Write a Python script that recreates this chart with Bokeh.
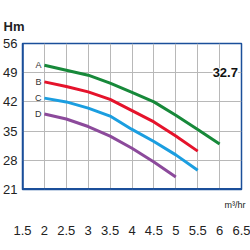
from bokeh.plotting import figure
from bokeh.models import FixedTicker, Span, Label, CustomJSTickFormatter, Title, LinearAxis
from bokeh.embed import file_html
from bokeh.resources import INLINE

# ---- data ----
flow_a = [2, 2.5, 3, 3.5, 4, 4.5, 5, 5.5, 6]
head_a = [50.8, 49.6, 48.4, 46.5, 44.3, 42.0, 38.8, 35.4, 31.9]
flow_b = [2, 2.5, 3, 3.5, 4, 4.5, 5, 5.5]
head_b = [46.8, 45.7, 44.4, 42.6, 39.9, 37.2, 33.8, 30.2]
flow_c = [2, 2.5, 3, 3.5, 4, 4.5, 5, 5.5]
head_c = [42.9, 42.0, 40.5, 38.6, 35.4, 32.5, 29.3, 25.6]
flow_d = [2, 2.5, 3, 3.5, 4, 4.5, 5]
head_d = [39.1, 37.9, 36.1, 33.8, 30.9, 27.6, 24.0]
curve_names = ["A", "B", "C", "D"]
x_ticks = [1.5, 2, 2.5, 3, 3.5, 4, 4.5, 5, 5.5, 6, 6.5]
y_ticks = [21, 28, 35, 42, 49, 56]
model_label = "32.7"

FONT = "Liberation Sans"
BLUE = "#1b4f9a"

p = figure(width=250, height=250, x_range=(1.5, 6.5), y_range=(21, 56),
           output_backend="svg", toolbar_location=None, x_axis_location=None,
           min_border_left=22, min_border_right=9, min_border_top=43, min_border_bottom=61)
p.background_fill_color = "white"
p.border_fill_color = "white"
p.outline_line_color = BLUE
p.outline_line_width = 1.5

# Title "Hm" above the y axis
p.title.text = "Hm"
p.title.align = "left"
p.title.offset = -19
p.title.standoff = 20
p.title.text_font = FONT
p.title.text_font_size = "13px"
p.title.text_font_style = "bold"
p.title.text_color = "#222222"

# unit label below the frame, right aligned
unit = Title(text="m³/hr", align="right", offset=-4, standoff=16, text_font=FONT,
             text_font_size="9px", text_font_style="normal", text_color="#222222")
p.add_layout(unit, "below")

xaxis = LinearAxis(ticker=FixedTicker(ticks=x_ticks),
                   formatter=CustomJSTickFormatter(code="return String(tick);"))
p.add_layout(xaxis, "below")
p.yaxis.ticker = FixedTicker(ticks=y_ticks)
for ax in (xaxis, p.yaxis[0]):
    ax.axis_line_color = None
    ax.major_tick_line_color = None
    ax.minor_tick_line_color = None
    ax.major_tick_out = 0
    ax.major_label_text_font = FONT
    ax.major_label_text_color = "#222222"
xaxis.major_label_standoff = 8
xaxis.major_label_text_font_size = "13px"
p.yaxis.major_label_standoff = 5
p.yaxis.major_label_text_font_size = "13px"

p.xgrid.ticker = FixedTicker(ticks=[2, 2.5, 3, 3.5, 4, 4.5, 5, 5.5, 6])
p.ygrid.ticker = FixedTicker(ticks=[28, 35, 42, 49])
p.xgrid.grid_line_color = "#b8b8b8"
p.ygrid.grid_line_color = "#b8b8b8"

p.add_layout(Span(location=21, dimension="width", line_color=BLUE, line_width=3))
p.add_layout(Span(location=1.5, dimension="height", line_color=BLUE, line_width=2.5))

colors = ["#17893a", "#e5132b", "#1b9ee0", "#8c4a9b"]
flows = [flow_a, flow_b, flow_c, flow_d]
heads = [head_a, head_b, head_c, head_d]
for name, fx, hy, c in zip(curve_names, flows, heads, colors):
    p.line(fx, hy, line_color=c, line_width=3)
    p.add_layout(Label(x=fx[0], y=hy[0], text=name, x_offset=-3, text_align="right",
                       text_baseline="middle", text_font=FONT, text_font_size="9px",
                       text_color="#333333"))

p.add_layout(Label(x=6.13, y=49, text=model_label, text_align="center", text_baseline="middle",
                   text_font=FONT, text_font_size="13px", text_font_style="bold",
                   text_color="#111111", background_fill_color="white"))

open("out.html", "w").write(file_html(p, INLINE))
